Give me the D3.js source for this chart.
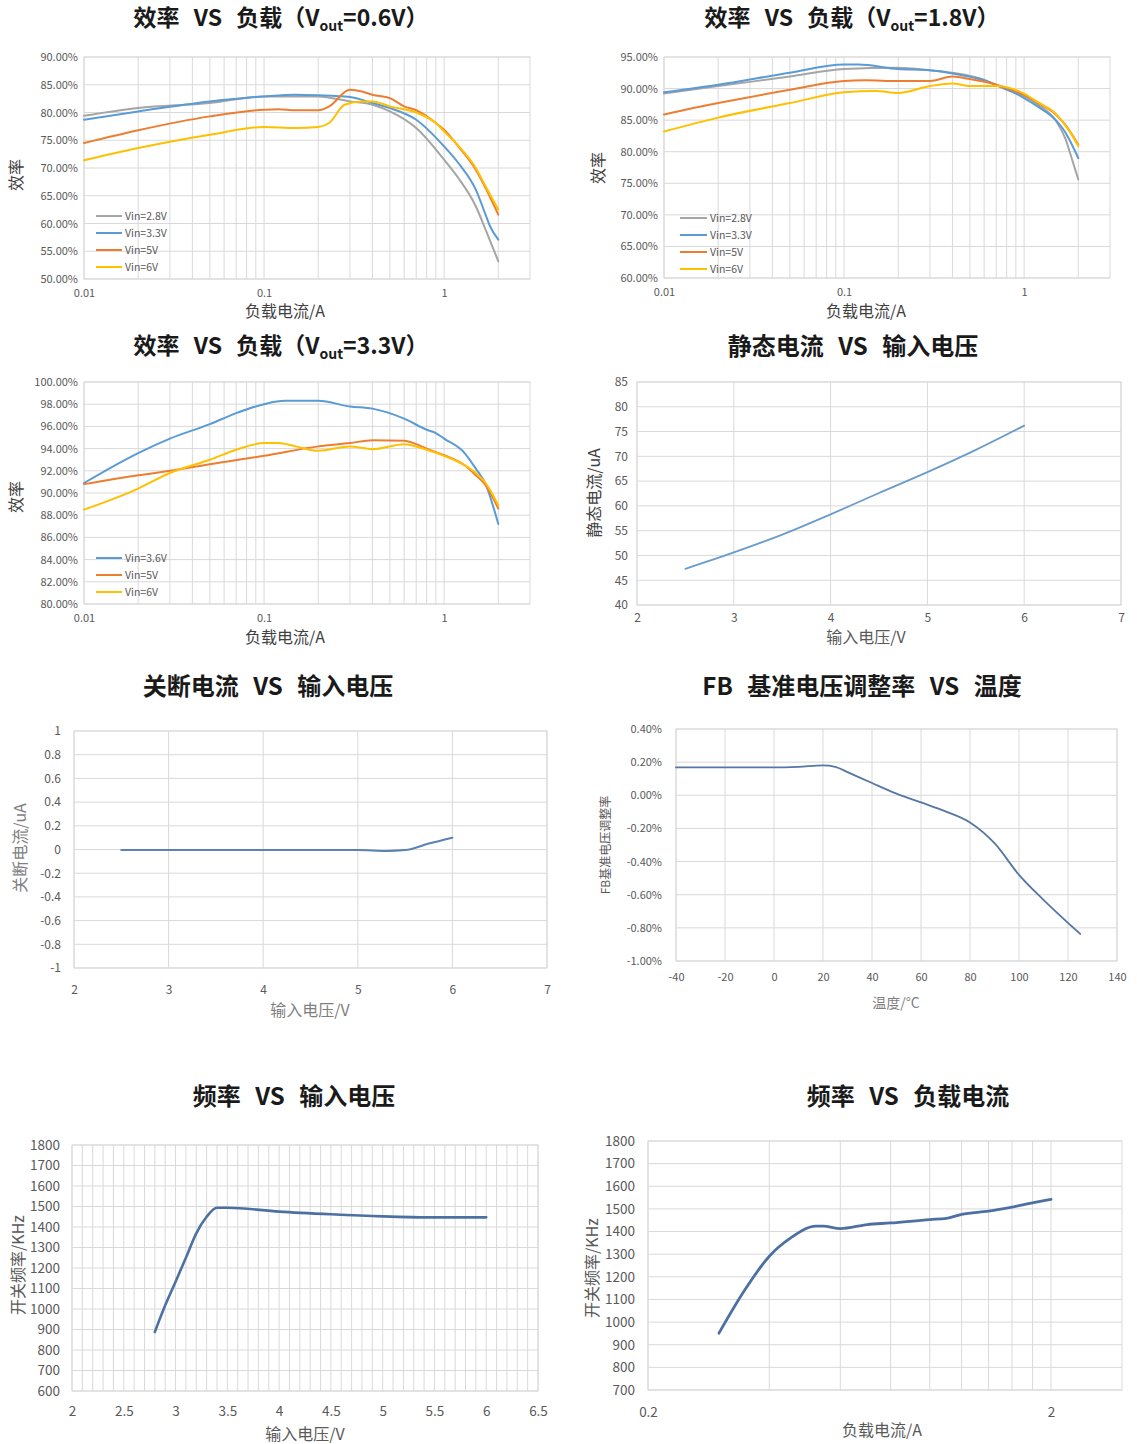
<!DOCTYPE html>
<html><head><meta charset="utf-8">
<script src="https://cdn.jsdelivr.net/npm/d3@7"></script>
<style>html,body{margin:0;padding:0;background:#fff;}svg{display:block;}</style>
</head><body>
<script>
// ---------- DATA ----------
// Efficiency vs load, Vout=0.6V
const effA_legend = ["Vin=2.8V","Vin=3.3V","Vin=5V","Vin=6V"];
const loadA_28 = [0.01,0.02,0.05,0.1,0.2,0.3,0.4,0.5,0.7,1,1.2,1.5,1.7,2];
const effA_28  = [79.4,80.8,81.7,82.9,82.9,82.0,81.4,80.2,77.2,71.5,68.2,63.1,58.9,53.2];
const loadA_33 = [0.01,0.02,0.05,0.1,0.15,0.2,0.3,0.4,0.5,0.7,1,1.2,1.5,1.7,1.8,2];
const effA_33  = [78.7,80.2,82.0,82.9,83.2,83.1,82.8,81.7,80.8,78.7,73.9,70.9,66.1,61.6,59.5,57.1];
const loadA_5  = [0.01,0.02,0.05,0.1,0.12,0.15,0.2,0.23,0.3,0.35,0.4,0.5,0.6,0.7,0.9,1,1.2,1.5,1.7,2];
const effA_5   = [74.5,76.8,79.3,80.5,80.6,80.4,80.4,81.1,84.1,83.8,83.2,82.6,81.1,80.4,78.1,76.9,73.9,69.7,66.4,61.6];
const loadA_6  = [0.01,0.02,0.05,0.1,0.15,0.2,0.23,0.28,0.35,0.4,0.5,0.7,0.9,1,1.2,1.5,1.7,2];
const effA_6   = [71.4,73.6,76.0,77.4,77.2,77.4,78.1,81.4,82.0,82.0,81.1,80.0,78.1,76.6,74.0,70.0,66.7,62.5];
const effA_ticks = [50,55,60,65,70,75,80,85,90];

// Efficiency vs load, Vout=1.8V
const effB_legend = ["Vin=2.8V","Vin=3.3V","Vin=5V","Vin=6V"];
const loadB_28 = [0.01,0.02,0.05,0.1,0.2,0.3,0.4,0.6,0.8,1,1.2,1.5,1.7,1.8,2];
const effB_28  = [89.2,90.4,91.9,93.1,93.3,92.9,92.5,91.4,89.8,88.8,87.4,84.9,82.0,79.8,75.6];
const loadB_33 = [0.01,0.02,0.05,0.1,0.12,0.2,0.3,0.4,0.6,0.8,1,1.2,1.5,1.7,1.8,2];
const effB_33  = [89.4,90.6,92.5,93.8,93.8,93.1,92.9,92.4,91.3,89.9,88.5,87.1,85.0,83.0,81.7,79.0];
const loadB_5  = [0.01,0.02,0.05,0.1,0.13,0.2,0.3,0.4,0.5,0.7,1,1.2,1.5,1.7,1.8,2];
const effB_5   = [85.9,87.7,89.8,91.2,91.3,91.2,91.2,91.9,91.5,90.6,89.0,87.7,85.9,84.2,83.2,81.1];
const loadB_6  = [0.01,0.02,0.05,0.1,0.15,0.2,0.3,0.4,0.5,0.7,1,1.2,1.5,1.7,1.8,2];
const effB_6   = [83.2,85.4,87.7,89.4,89.6,89.3,90.4,90.8,90.4,90.4,89.2,87.8,86.0,84.1,83.1,80.9];
const effB_ticks = [60,65,70,75,80,85,90,95];

// Efficiency vs load, Vout=3.3V
const effC_legend = ["Vin=3.6V","Vin=5V","Vin=6V"];
const loadC_36 = [0.01,0.02,0.03,0.05,0.07,0.1,0.13,0.2,0.3,0.4,0.6,0.8,0.9,1,1.3,1.5,1.7,2];
const effC_36  = [90.9,93.6,94.9,96.2,97.2,98.0,98.3,98.3,97.8,97.6,96.7,95.7,95.4,94.9,93.6,92.2,90.8,87.2];
const loadC_5  = [0.01,0.02,0.03,0.05,0.1,0.2,0.3,0.4,0.6,0.7,0.8,1,1.3,1.5,1.7,2];
const effC_5   = [90.8,91.6,92.0,92.6,93.35,94.2,94.5,94.75,94.7,94.4,94.0,93.4,92.5,91.6,90.7,88.6];
const loadC_6  = [0.01,0.02,0.03,0.05,0.07,0.1,0.12,0.15,0.2,0.3,0.4,0.6,0.8,1,1.3,1.5,1.7,2];
const effC_6   = [88.5,90.4,91.8,93.0,93.9,94.5,94.5,94.2,93.8,94.2,93.95,94.4,93.9,93.35,92.5,91.8,90.9,88.9];
const effC_ticks = [80,82,84,86,88,90,92,94,96,98,100];

// Quiescent current vs input voltage
const iqVin = [2.5,3,3.5,4,4.5,5,5.5,6];
const iqVal = [47.3,50.6,54.2,58.3,62.6,66.8,71.3,76.2];
const iqTicks = [40,45,50,55,60,65,70,75,80,85];
const vinTicks = [2,3,4,5,6,7];

// Shutdown current vs input voltage
const sdVin = [2.5,3,3.5,4,4.5,5,5.3,5.5,5.75,6];
const sdVal = [-0.005,-0.005,-0.005,-0.005,-0.005,-0.005,-0.012,-0.005,0.05,0.1];
const sdTicks = [-1,-0.8,-0.6,-0.4,-0.2,0,0.2,0.4,0.6,0.8,1];

// FB reference regulation vs temperature (%)
const fbTemp = [-40,-20,0,10,20,25,30,40,50,60,70,80,90,100,110,125];
const fbVal  = [0.168,0.168,0.168,0.172,0.18,0.172,0.14,0.074,0.01,-0.043,-0.097,-0.164,-0.289,-0.48,-0.631,-0.837];
const fbYTicks = [-1.0,-0.8,-0.6,-0.4,-0.2,0,0.2,0.4];
const fbXTicks = [-40,-20,0,20,40,60,80,100,120,140];

// Frequency vs input voltage (kHz)
const fvVin = [2.8,2.9,3.0,3.1,3.2,3.3,3.4,3.5,4,4.5,5,5.5,6];
const fvVal = [888,1018,1133,1250,1369,1450,1494,1494,1475,1462,1452,1447,1447];
const fvYTicks = [600,700,800,900,1000,1100,1200,1300,1400,1500,1600,1700,1800];
const fvXTicks = [2,2.5,3,3.5,4,4.5,5,5.5,6,6.5];

// Frequency vs load current (kHz)
const flLoad = [0.3,0.346,0.4,0.452,0.522,0.544,0.6,0.7,0.8,1.0,1.1,1.2,1.4,1.6,1.8,2.0];
const flVal  = [951,1136,1291,1372,1424,1424,1413,1431,1438,1453,1458,1476,1490,1508,1527,1542];
const flYTicks = [700,800,900,1000,1100,1200,1300,1400,1500,1600,1700,1800];
const flXTicks = [0.2,2];

// ---------- STYLE ----------
const FONT = "'Noto Sans CJK SC','Noto Sans',sans-serif";
const GRID = "#d9d9d9", TICK = "#595959", AXT = "#404040";
const C_GRAY = "#a5a5a5", C_BLUE = "#5b9bd5", C_ORANGE = "#ed7d31", C_YELLOW = "#ffc000";

const svg = d3.select("body").append("svg").attr("width",1137).attr("height",1444)
  .attr("font-family", FONT);

function logGrid(lo, hi, stopAt) {
  const out = [];
  for (let e = Math.floor(Math.log10(lo)); e <= Math.ceil(Math.log10(hi)); e++) {
    for (let m = 1; m < 10; m++) { const v = m * Math.pow(10, e); if (v >= lo - 1e-12 && v <= stopAt + 1e-12) out.push(+v.toPrecision(6)); }
  }
  return out;
}

function panel(c) {
  const g = svg.append("g");
  const x = (c.xLog ? d3.scaleLog() : d3.scaleLinear()).domain(c.xDomain).range([c.left, c.right]);
  const y = d3.scaleLinear().domain(c.yDomain).range([c.bottom, c.top]);
  g.append("g").selectAll("line").data(c.xGrid).join("line")
    .attr("x1", d => x(d)).attr("x2", d => x(d)).attr("y1", c.top).attr("y2", c.bottom)
    .attr("stroke", c.gridColor || GRID).attr("stroke-width", 1);
  g.append("g").selectAll("line").data(c.yGrid || c.yTicks).join("line")
    .attr("x1", c.left).attr("x2", c.right).attr("y1", d => y(d)).attr("y2", d => y(d))
    .attr("stroke", c.gridColor || GRID).attr("stroke-width", 1);
  g.append("rect").attr("x", c.left).attr("y", c.top).attr("width", c.right - c.left).attr("height", c.bottom - c.top)
    .attr("fill", "none").attr("stroke", GRID);

  const ya = g.append("g").attr("transform", `translate(${c.left - c.yPad},0)`)
    .call(d3.axisLeft(y).tickValues(c.yTicks).tickFormat(c.yFmt).tickSize(0).tickPadding(0));
  ya.select(".domain").remove();
  ya.selectAll("text").attr("font-size", c.yFont).attr("fill", TICK).attr("font-family", FONT);

  const xa = g.append("g").attr("transform", `translate(0,${c.bottom + c.xPad})`)
    .call(d3.axisBottom(x).tickValues(c.xTicks).tickFormat(c.xFmt).tickSize(0).tickPadding(0));
  xa.select(".domain").remove();
  xa.selectAll("text").attr("font-size", c.xFont).attr("fill", TICK).attr("font-family", FONT);

  const line = d3.line().x(d => x(d[0])).y(d => y(d[1])).curve(d3.curveMonotoneX);
  c.series.forEach(s => {
    g.append("path").datum(d3.zip(s.x, s.y)).attr("d", line)
      .attr("fill", "none").attr("stroke", s.color).attr("stroke-width", s.width || 2)
      .attr("stroke-linejoin", "round").attr("stroke-linecap", "round");
  });

  if (c.legend) {
    const L = c.legend;
    c.series.forEach((s, i) => {
      const yy = L.y + i * L.dy;
      g.append("line").attr("x1", L.x).attr("x2", L.x + L.len).attr("y1", yy).attr("y2", yy)
        .attr("stroke", s.color).attr("stroke-width", 2);
      g.append("text").attr("x", L.x + L.len + 3).attr("y", yy).attr("dy", "0.35em")
        .attr("font-size", 10.5).attr("fill", TICK).text(s.name);
    });
  }

  // axis titles
  g.append("text").attr("x", c.xTitle.x).attr("y", c.xTitle.y).attr("text-anchor", "middle")
    .attr("font-size", c.xTitle.size).attr("fill", c.xTitle.color || AXT).text(c.xTitle.text);
  g.append("text").attr("transform", `translate(${c.yTitle.x},${c.yTitle.y}) rotate(-90)`).attr("text-anchor", "middle")
    .attr("dy", "0.35em").attr("font-size", c.yTitle.size).attr("fill", c.yTitle.color || AXT).text(c.yTitle.text);

  // chart title
  const t = svg.append("text").attr("x", c.title.x).attr("y", c.title.y).attr("text-anchor", "middle")
    .attr("font-size", c.title.size).attr("font-weight", "bold").attr("fill", "#1a1a1a")
    .attr("word-spacing", 9);
  c.title.parts.forEach(p => {
    const ts = t.append("tspan").text(p.t);
    if (p.sub) ts.attr("font-size", 14).attr("dy", 5).attr("word-spacing", 0);
    if (p.after) ts.attr("dy", -5);
  });
}

const pct = v => v.toFixed(2) + "%";
const plain = v => String(v);
const effGridX = logGrid(0.01, 3, 2);

// Panel 1: Vout = 0.6V
panel({
  left: 84, right: 530, top: 57, bottom: 279, xLog: true, xDomain: [0.01, 3], yDomain: [50, 90],
  xGrid: effGridX, yTicks: effA_ticks, yFmt: pct, yFont: 11, yPad: 6,
  xTicks: [0.01, 0.1, 1], xFmt: plain, xFont: 11, xPad: 10,
  series: [
    {x: loadA_28, y: effA_28, color: C_GRAY, name: effA_legend[0]},
    {x: loadA_33, y: effA_33, color: C_BLUE, name: effA_legend[1]},
    {x: loadA_5, y: effA_5, color: C_ORANGE, name: effA_legend[2]},
    {x: loadA_6, y: effA_6, color: C_YELLOW, name: effA_legend[3]}],
  legend: {x: 96, y: 216, dy: 17, len: 26},
  xTitle: {text: "负载电流/A", x: 285, y: 317, size: 16},
  yTitle: {text: "效率", x: 16, y: 175, size: 16},
  title: {x: 281, y: 26, size: 23, parts: [{t: "效率 VS 负载（V"}, {t: "out", sub: true}, {t: "=0.6V）", after: true}]}
});

// Panel 2: Vout = 1.8V
panel({
  left: 664, right: 1110, top: 57, bottom: 278, xLog: true, xDomain: [0.01, 3], yDomain: [60, 95],
  xGrid: effGridX, yTicks: effB_ticks, yFmt: pct, yFont: 11, yPad: 6,
  xTicks: [0.01, 0.1, 1], xFmt: plain, xFont: 11, xPad: 10,
  series: [
    {x: loadB_28, y: effB_28, color: C_GRAY, name: effB_legend[0]},
    {x: loadB_33, y: effB_33, color: C_BLUE, name: effB_legend[1]},
    {x: loadB_5, y: effB_5, color: C_ORANGE, name: effB_legend[2]},
    {x: loadB_6, y: effB_6, color: C_YELLOW, name: effB_legend[3]}],
  legend: {x: 680, y: 218, dy: 17, len: 27},
  xTitle: {text: "负载电流/A", x: 866, y: 317, size: 16},
  yTitle: {text: "效率", x: 598, y: 168, size: 16},
  title: {x: 852, y: 26, size: 23, parts: [{t: "效率 VS 负载（V"}, {t: "out", sub: true}, {t: "=1.8V）", after: true}]}
});

// Panel 3: Vout = 3.3V
panel({
  left: 84, right: 530, top: 382, bottom: 604, xLog: true, xDomain: [0.01, 3], yDomain: [80, 100],
  xGrid: effGridX, yTicks: effC_ticks, yFmt: pct, yFont: 11, yPad: 6,
  xTicks: [0.01, 0.1, 1], xFmt: plain, xFont: 11, xPad: 10,
  series: [
    {x: loadC_36, y: effC_36, color: C_BLUE, name: effC_legend[0]},
    {x: loadC_5, y: effC_5, color: C_ORANGE, name: effC_legend[1]},
    {x: loadC_6, y: effC_6, color: C_YELLOW, name: effC_legend[2]}],
  legend: {x: 96, y: 558, dy: 17, len: 26},
  xTitle: {text: "负载电流/A", x: 285, y: 643, size: 16},
  yTitle: {text: "效率", x: 16, y: 497, size: 16},
  title: {x: 281, y: 354, size: 23, parts: [{t: "效率 VS 负载（V"}, {t: "out", sub: true}, {t: "=3.3V）", after: true}]}
});

// Panel 4: quiescent current
panel({
  left: 637, right: 1121, top: 382, bottom: 605, xLog: false, xDomain: [2, 7], yDomain: [40, 85],
  xGrid: vinTicks, yTicks: iqTicks, yFmt: plain, yFont: 12, yPad: 9,
  xTicks: vinTicks, xFmt: plain, xFont: 12, xPad: 8,
  series: [{x: iqVin, y: iqVal, color: "#6a9ccb", width: 1.8}],
  xTitle: {text: "输入电压/V", x: 866, y: 643, size: 16, color: "#595959"},
  yTitle: {text: "静态电流/uA", x: 594, y: 493, size: 16},
  title: {x: 853, y: 355, size: 24, parts: [{t: "静态电流 VS 输入电压"}]}
});

// Panel 5: shutdown current
panel({
  left: 74, right: 547, top: 731, bottom: 968, xLog: false, xDomain: [2, 7], yDomain: [-1, 1],
  xGrid: vinTicks, yTicks: sdTicks, yFmt: v => (Math.abs(v) < 1e-9 ? "0" : String(+v.toFixed(1))), yFont: 12, yPad: 13,
  xTicks: vinTicks, xFmt: plain, xFont: 12, xPad: 17,
  series: [{x: sdVin, y: sdVal, color: "#5a82b4", width: 2}],
  xTitle: {text: "输入电压/V", x: 310, y: 1016, size: 16, color: "#7f7f7f"},
  yTitle: {text: "关断电流/uA", x: 20, y: 848, size: 16, color: "#7f7f7f"},
  title: {x: 268, y: 695, size: 24, parts: [{t: "关断电流 VS 输入电压"}]}
});

// Panel 6: FB regulation vs temperature
panel({
  left: 676, right: 1117, top: 729, bottom: 961, xLog: false, xDomain: [-40, 140], yDomain: [-1.0, 0.4],
  xGrid: fbXTicks, yTicks: fbYTicks, yFmt: pct, yFont: 11, yPad: 14,
  xTicks: fbXTicks, xFmt: plain, xFont: 11, xPad: 12,
  series: [{x: fbTemp, y: fbVal, color: "#5577a3", width: 1.8}],
  xTitle: {text: "温度/°C", x: 896, y: 1008, size: 14, color: "#7f7f7f"},
  yTitle: {text: "FB基准电压调整率", x: 606, y: 845, size: 12, color: "#595959"},
  title: {x: 862, y: 695, size: 24, parts: [{t: "FB 基准电压调整率 VS 温度"}]}
});

// Panel 7: frequency vs input voltage
panel({
  left: 72, right: 538, top: 1145, bottom: 1391, xLog: false, xDomain: [2, 6.5], yDomain: [600, 1800],
  xGrid: d3.range(20, 66).map(v => v / 10), yTicks: fvYTicks, yFmt: plain, yFont: 13.5, yPad: 12,
  xTicks: fvXTicks, xFmt: plain, xFont: 13.5, xPad: 15,
  series: [{x: fvVin, y: fvVal, color: "#4d70a3", width: 2.6}],
  xTitle: {text: "输入电压/V", x: 305, y: 1440, size: 16, color: "#595959"},
  yTitle: {text: "开关频率/KHz", x: 18, y: 1265, size: 16, color: "#595959"},
  title: {x: 294, y: 1105, size: 24, parts: [{t: "频率 VS 输入电压"}]}
});

// Panel 8: frequency vs load current
panel({
  left: 648, right: 1122, top: 1141, bottom: 1390, xLog: true, xDomain: [0.2, 3], yDomain: [700, 1800],
  xGrid: d3.range(2, 22, 2).map(v => v / 10), yTicks: flYTicks, yFmt: plain, yFont: 13.5, yPad: 13,
  xTicks: flXTicks, xFmt: plain, xFont: 13.5, xPad: 17,
  series: [{x: flLoad, y: flVal, color: "#4d70a3", width: 2.8}],
  xTitle: {text: "负载电流/A", x: 882, y: 1436, size: 16, color: "#595959"},
  yTitle: {text: "开关频率/KHz", x: 592, y: 1268, size: 16, color: "#595959"},
  title: {x: 908, y: 1105, size: 24, parts: [{t: "频率 VS 负载电流"}]}
});
</script>
</body></html>
